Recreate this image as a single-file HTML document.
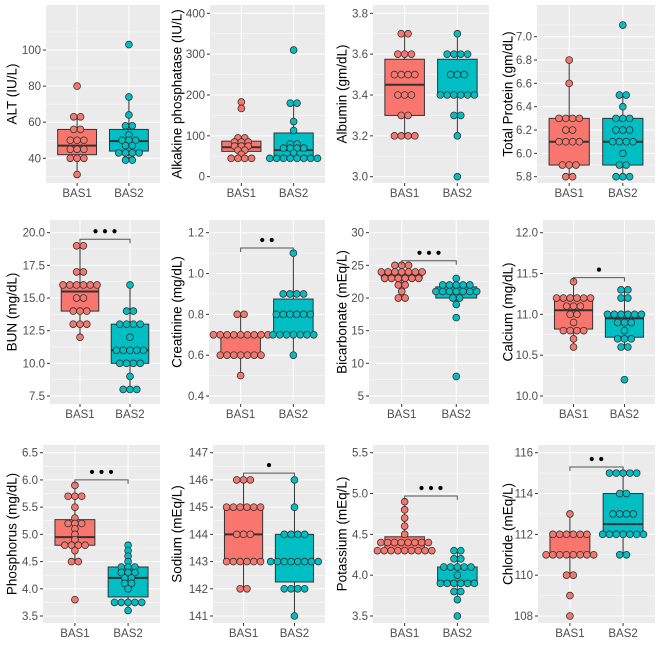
<!DOCTYPE html>
<html><head><meta charset="utf-8"><style>
html,body{margin:0;padding:0;background:#fff;}
svg{display:block;font-family:"Liberation Sans",sans-serif;}
</style></head><body>
<svg id="chart" width="660" height="660" viewBox="0 0 660 660"></svg>
<script>
const groups = ["BAS1","BAS2"];
// raw points per panel
const altBas1 = [80,63,63,56,56,50,50,50,45,45,45,40,40,40,31];
const altBas2 = [103,74,64,58,58,53,50,50,50,47,47,43,43,43,43,39,39];
const alpBas1 = [183,167,95,95,85,85,85,75,75,75,65,65,55,45,45,45,45];
const alpBas2 = [310,180,180,135,113,80,80,70,70,70,70,58,45,45,45,45,45,45,45,45];
const albBas1 = [3.7,3.7,3.6,3.6,3.6,3.5,3.5,3.5,3.5,3.4,3.4,3.4,3.3,3.3,3.2,3.2,3.2,3.2];
const albBas2 = [3.7,3.6,3.6,3.6,3.6,3.5,3.5,3.5,3.4,3.4,3.4,3.4,3.4,3.4,3.3,3.3,3.2,3.0];
const tpBas1 = [6.8,6.6,6.3,6.3,6.3,6.3,6.2,6.2,6.1,6.1,6.1,6.1,5.9,5.9,5.9,5.8,5.8];
const tpBas2 = [7.1,6.5,6.5,6.4,6.3,6.3,6.3,6.2,6.2,6.2,6.1,6.1,6.1,6.1,6.0,5.9,5.9,5.8,5.8,5.8];
const bunBas1 = [19,19,17,17,16,16,16,16,16,16,15,15,14,14,14,13,13,13,12];
const bunBas2 = [16,14,14,13,13,13,13,12,11,11,11,11,11,10,10,10,10,9,8,8,8];
const crBas1 = [0.8,0.8,0.7,0.7,0.7,0.7,0.7,0.7,0.7,0.7,0.7,0.6,0.6,0.6,0.6,0.6,0.6,0.6,0.5];
const crBas2 = [1.1,0.9,0.9,0.9,0.9,0.8,0.8,0.8,0.8,0.8,0.8,0.7,0.7,0.7,0.7,0.7,0.7,0.7,0.6];
const bicBas1 = [25,25,25,24,24,24,24,24,24,24,23,23,23,23,23,23,22,22,21,20,20];
const bicBas2 = [23,22,22,22,22,22,21,21,21,21,21,21,21,20,20,19,17,8];
const caBas1 = [11.4,11.2,11.2,11.2,11.2,11.2,11.2,11.1,11.1,11.1,11.0,11.0,10.9,10.8,10.8,10.8,10.8,10.7,10.6];
const caBas2 = [11.3,11.3,11.2,11.2,11.0,11.0,11.0,11.0,11.0,11.0,10.9,10.9,10.9,10.8,10.7,10.7,10.7,10.6,10.6,10.2];
const phBas1 = [5.9,5.7,5.7,5.7,5.5,5.3,5.2,5.2,5.2,5.1,5.0,4.9,4.8,4.8,4.8,4.8,4.7,4.5,4.5,3.8];
const phBas2 = [4.8,4.7,4.6,4.5,4.4,4.4,4.4,4.3,4.3,4.3,4.2,4.2,4.1,4.1,4.0,3.75,3.75,3.75,3.75,3.75,3.6];
const naBas1 = [146,146,146,145,145,145,145,145,145,144,144,144,143,143,143,143,143,143,142,142];
const naBas2 = [146,145,144,144,144,144,143,143,143,143,143,143,143,143,142,142,142,142,141];
const kBas1 = [4.9,4.8,4.7,4.6,4.5,4.4,4.4,4.4,4.4,4.4,4.4,4.4,4.4,4.3,4.3,4.3,4.3,4.3,4.3,4.3,4.3,4.3];
const kBas2 = [4.3,4.3,4.2,4.2,4.1,4.1,4.1,4.1,4.1,4.0,3.9,3.9,3.9,3.9,3.9,3.9,3.8,3.8,3.7,3.5];
const clBas1 = [113,112,112,112,112,112,112,111,111,111,111,111,111,111,111,110,110,109,108];
const clBas2 = [115,115,115,115,115,114,114,113,113,113,113,112,112,112,112,112,112,112,111,111];
// box stats [whiskerLo, q1, median, q3, whiskerHi]
const boxStats1 = [[31,42,47,56,63],[45,62,72,87,95],[3.2,3.3,3.45,3.575,3.7],[5.8,5.9,6.1,6.3,6.8],
  [12,14,15.5,16,19],[0.5,0.6,0.7,0.7,0.8],[20,23,23.5,24,25],[10.6,10.82,11.05,11.2,11.4],
  [4.5,4.8,4.95,5.27,5.9],[142,143,144,145,146],[4.3,4.3,4.4,4.47,4.9],[110,111,111,112,113]];
const boxStats2 = [[39,44,49.5,56,74],[45,45,65,107,180],[3.2,3.4,3.4,3.575,3.7],[5.8,5.9,6.1,6.3,6.5],
  [8,10,11,13,16],[0.6,0.7,0.8,0.875,1.1],[19,20,21,21.7,23],[10.6,10.72,10.95,11.0,11.3],
  [3.6,3.85,4.2,4.4,4.8],[141,142.25,143,144,146],[3.7,3.9,3.92,4.1,4.3],[111,112,112.5,114,115]];
const titles = ["ALT (IU/L)","Alkakine phosphatase (IU/L)","Albumin (gm/dL)","Total Protein (gm/dL)",
  "BUN (mg/dL)","Creatinine (mg/dL)","Bicarbonate (mEq/L)","Calcium (mg/dL)",
  "Phosphorus (mg/dL)","Sodium (mEq/L)","Potassium (mEq/L)","Chloride (mEq/L)"];
const sigStars = [0,0,0,0,3,2,3,1,3,1,3,2];
const sigBracket = [null,null,null,null,19.5,1.125,25.7,11.45,6.0,146.25,4.97,115.3];
const tickStart = [40,0,3.0,5.8,7.5,0.4,5,10,3.5,141,3.5,108];
const tickStep = [20,100,0.2,0.2,2.5,0.2,5,0.5,0.5,1,0.5,2];
const tickEnd = [100,400,3.8,7.0,20,1.2,30,12,6.5,147,5.5,116];
const tickDec = [0,0,1,1,1,1,0,1,1,0,1,0];
const pointSets = [[altBas1,altBas2],[alpBas1,alpBas2],[albBas1,albBas2],[tpBas1,tpBas2],[bunBas1,bunBas2],[crBas1,crBas2],
  [bicBas1,bicBas2],[caBas1,caBas2],[phBas1,phBas2],[naBas1,naBas2],[kBas1,kBas2],[clBas1,clBas2]];

// layout (not data)
const L = [
 {x0:46,x1:160,y0:5,y1:183,c:[100,50,40,158.3],tx:12,lx:193},
 {x0:210,x1:325,y0:5,y1:183,c:[400,13.3,0,176.7],tx:177,lx:193},
 {x0:373,x1:489,y0:5,y1:183,c:[3.8,13.3,3.0,176.7],tx:342,lx:193},
 {x0:537,x1:655,y0:5,y1:183,c:[7.0,36.7,5.8,176.7],tx:508,lx:193},
 {x0:50,x1:160,y0:220,y1:404,c:[20,232.7,7.5,396],tx:12,lx:414},
 {x0:209,x1:325,y0:220,y1:404,c:[1.2,232.7,0.4,396],tx:177,lx:414},
 {x0:369,x1:489,y0:220,y1:404,c:[30,232.7,5,396],tx:342,lx:414},
 {x0:543,x1:655,y0:220,y1:404,c:[12,232.7,10,396],tx:508,lx:414},
 {x0:43,x1:160,y0:445,y1:623,c:[6.5,452.7,3.5,616],tx:12,lx:633},
 {x0:213,x1:325,y0:445,y1:623,c:[147,452.7,141,616],tx:177,lx:633},
 {x0:373,x1:489,y0:445,y1:623,c:[5.5,452.7,3.5,616],tx:342,lx:633},
 {x0:538,x1:655,y0:445,y1:623,c:[116,452.7,108,616],tx:508,lx:633}];
const colors = ["#F8766D","#00BFC4"];
const NS="http://www.w3.org/2000/svg";
const svg=document.getElementById('chart');
function mk(tag,attrs,parent){const e=document.createElementNS(NS,tag);for(const k in attrs)e.setAttribute(k,attrs[k]);(parent||svg).appendChild(e);return e;}

for(let p=0;p<12;p++){
  const l=L[p];
  const g=mk('g',{});
  
  
  const yScale=v=>l.c[1]+(v-l.c[0])*(l.c[3]-l.c[1])/(l.c[2]-l.c[0]);
  const xScale=i=>l.x0+(l.x1-l.x0)*(0.6+i)/2.2;
  const bg=mk('rect',{x:l.x0,y:l.y0,width:l.x1-l.x0,height:l.y1-l.y0,fill:'#EBEBEB'},g);
  
  
  const nT=Math.round((tickEnd[p]-tickStart[p])/tickStep[p]);
  for(let k=-1;k<=nT;k++){
    const mv=tickStart[p]+(k+0.5)*tickStep[p];const my=yScale(mv);
    if(my>l.y0&&my<l.y1) mk('line',{x1:l.x0,x2:l.x1,y1:my,y2:my,stroke:'#fff','stroke-width':0.5},g);
  }
  for(let k=0;k<=nT;k++){
    const v=tickStart[p]+k*tickStep[p];const y=yScale(v);
    mk('line',{x1:l.x0,x2:l.x1,y1:y,y2:y,stroke:'#fff','stroke-width':1},g);
    mk('line',{x1:l.x0-3,x2:l.x0,y1:y,y2:y,stroke:'#333','stroke-width':1},g);
    const t=mk('text',{x:l.x0-5,y:y+4,'font-size':11.5,fill:'#4D4D4D','text-anchor':'end'},g);
    t.textContent=v.toFixed(tickDec[p]);
    
    
  }
  for(let i=0;i<2;i++){
    const x=xScale(i);
    mk('line',{x1:x,x2:x,y1:l.y0,y2:l.y1,stroke:'#fff','stroke-width':1},g);
    mk('line',{x1:x,x2:x,y1:l.y1,y2:l.y1+3,stroke:'#333','stroke-width':1},g);
    const t=mk('text',{x:x,y:l.lx+4,'font-size':11.5,fill:'#4D4D4D','text-anchor':'middle'},g);
    t.textContent=groups[i];
    
    
    const s=i===0?boxStats1[p]:boxStats2[p];
    const bw=(l.x1-l.x0)/2.2*0.75;
    mk('line',{x1:x,x2:x,y1:yScale(s[0]),y2:yScale(s[1]),stroke:'#333','stroke-width':1},g);
    mk('line',{x1:x,x2:x,y1:yScale(s[3]),y2:yScale(s[4]),stroke:'#333','stroke-width':1},g);
    const box=mk('rect',{x:x-bw/2,y:yScale(s[3]),width:bw,height:Math.max(0.5,yScale(s[1])-yScale(s[3])),fill:colors[i],stroke:'#333','stroke-width':1},g);
    
    
    mk('line',{x1:x-bw/2,x2:x+bw/2,y1:yScale(s[2]),y2:yScale(s[2]),stroke:'#333','stroke-width':2},g);
    const pts=pointSets[p][i];const bins={};
    pts.forEach(v=>{const k=v.toFixed(3);bins[k]=(bins[k]||0)+1;});
    for(const k in bins){
      const n=bins[k];
      for(let j=0;j<n;j++){
        const c=mk('circle',{cx:x+(j-(n-1)/2)*6.8,cy:yScale(+k),r:3.4,fill:colors[i],stroke:'#333','stroke-width':0.8},g);
        
        
      }
    }
  }
  if(sigStars[p]>0){
    const by=yScale(sigBracket[p]);const xa=xScale(0),xb=xScale(1);
    const br=mk('polyline',{points:`${xa},${by+4} ${xa},${by} ${xb},${by} ${xb},${by+4}`,fill:'none',stroke:'#555','stroke-width':1},g);
    
    
    const n=sigStars[p],mid=(xa+xb)/2;
    for(let j=0;j<n;j++){
      const d=mk('circle',{cx:mid+(j-(n-1)/2)*9.5,cy:by-8,r:2.1,fill:'#000'},g);
      
      
    }
  }
  const ym=(l.y0+l.y1)/2;
  const tt=mk('text',{x:l.tx,y:ym,'font-size':13.5,fill:'#000','text-anchor':'middle',transform:`rotate(-90 ${l.tx} ${ym})`,'dominant-baseline':'central'},g);
  tt.textContent=titles[p];
  
  
}
</script>
</body></html>
